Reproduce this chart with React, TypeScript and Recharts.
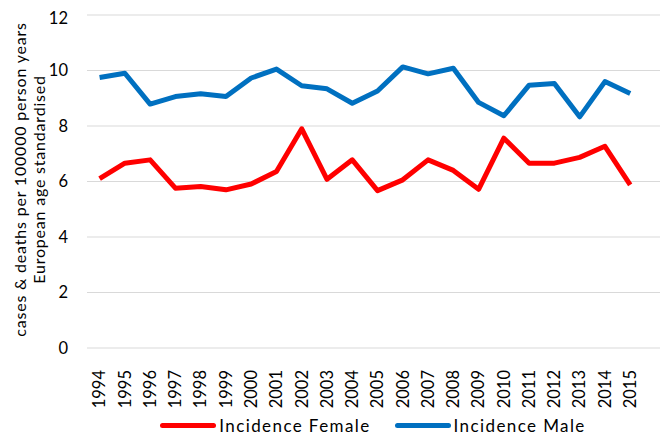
import React from 'react';
import { LineChart, Line, XAxis, YAxis, CartesianGrid, Legend } from 'recharts';

const YEARS = ['1994', '1995', '1996', '1997', '1998', '1999', '2000', '2001', '2002', '2003', '2004', '2005', '2006', '2007', '2008', '2009', '2010', '2011', '2012', '2013', '2014', '2015'];
const FEMALE = [6.1, 6.66, 6.78, 5.76, 5.82, 5.7, 5.91, 6.36, 7.9, 6.08, 6.78, 5.67, 6.06, 6.78, 6.4, 5.72, 7.56, 6.66, 6.66, 6.87, 7.27, 5.88];
const MALE = [9.75, 9.9, 8.79, 9.06, 9.16, 9.06, 9.73, 10.05, 9.45, 9.34, 8.82, 9.26, 10.13, 9.88, 10.08, 8.85, 8.37, 9.47, 9.53, 8.33, 9.6, 9.17];
const Y_TICKS = [0, 2, 4, 6, 8, 10, 12];

const FONT = 'Lato, "Open Sans", sans-serif';
const RED = '#FF0000';
const BLUE = '#0070C0';

const data = YEARS.map((year, i) => ({ year, female: FEMALE[i], male: MALE[i] }));

// rotated year labels, reading bottom to top
const YearTick = ({ x, y, payload }: any) => (
  <g transform={`translate(${x},${y + 22})`}>
    <text transform="rotate(-90)" textAnchor="end" dy="0.35em" fontSize={16.5} fontFamily={FONT} fill="#000">
      {payload.value}
    </text>
  </g>
);

const YLabel = ({ viewBox }: any) => {
  const cy = viewBox.y + viewBox.height / 2 - 2;
  return (
    <g fontFamily={FONT} fontSize={16} fill="#000" letterSpacing={0.8}>
      <text transform={`translate(12,${cy}) rotate(-90)`} textAnchor="middle" dy="0.35em">
        cases &amp; deaths per 100000 person years
      </text>
      <text transform={`translate(31,${cy}) rotate(-90)`} textAnchor="middle" dy="0.35em">
        European age standardised
      </text>
    </g>
  );
};

const LegendBox = () => (
  <div style={{ display: 'flex', justifyContent: 'center', alignItems: 'center', height: 30, paddingLeft: 70, fontFamily: FONT, fontSize: 17, letterSpacing: 1.4, color: '#000' }}>
    <span style={{ display: 'inline-block', width: 56, height: 5, borderRadius: 3, background: RED, marginRight: 3 }} />
    <span style={{ marginRight: 24 }}>Incidence Female</span>
    <span style={{ display: 'inline-block', width: 56, height: 5, borderRadius: 3, background: BLUE, marginRight: 3 }} />
    <span>Incidence Male</span>
  </div>
);

export default function App() {
  return (
    <LineChart width={660} height={432} data={data} margin={{ top: 7, right: 0, left: 0, bottom: 0 }}>
      <CartesianGrid vertical={false} stroke="#D9D9D9" strokeWidth={1} />
      <XAxis
        dataKey="year"
        axisLine={false}
        tickLine={false}
        tickSize={0}
        tickMargin={0}
        interval={0}
        height={62}
        padding={{ left: 12.6, right: 37.8 }}
        tick={<YearTick />}
      />
      <YAxis
        domain={[0, 12]}
        ticks={Y_TICKS}
        width={79}
        axisLine={false}
        tickLine={false}
        tickSize={0}
        tickMargin={19}
        tick={{ fontSize: 16.5, fontFamily: FONT, fill: '#000' }}
        label={<YLabel />}
      />
      <Legend verticalAlign="bottom" content={<LegendBox />} />
      <Line dataKey="female" name="Incidence Female" stroke={RED} strokeWidth={5} dot={false} strokeLinejoin="round" isAnimationActive={false} />
      <Line dataKey="male" name="Incidence Male" stroke={BLUE} strokeWidth={5} dot={false} strokeLinejoin="round" isAnimationActive={false} />
    </LineChart>
  );
}
